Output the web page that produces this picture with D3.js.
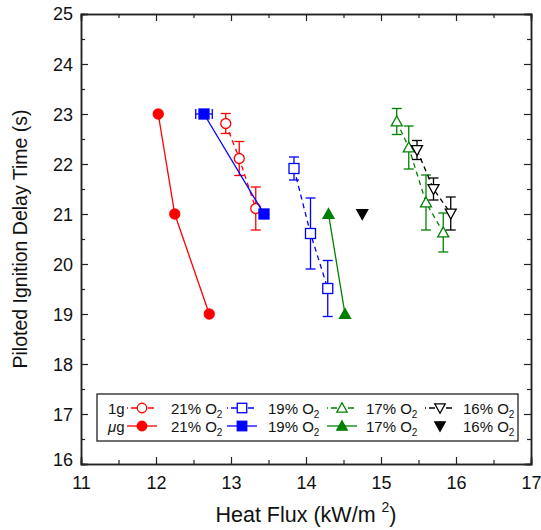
<!DOCTYPE html>
<html>
<head>
<meta charset="utf-8">
<script src="https://cdnjs.cloudflare.com/ajax/libs/d3/7.8.5/d3.min.js"></script>
<style>
  body { margin: 0; background: #fff; }
  text { font-family: "Liberation Sans", Arial, sans-serif; }
</style>
</head>
<body>
<div class="svg_container"></div>
<script>
// data: [heat flux, delay time, y error, x error]
var one_g_21 = [[12.93, 22.81, 0.20], [13.11, 22.11, 0.34], [13.33, 21.11, 0.43]];
var one_g_19 = [[13.84, 21.91, 0.23], [14.06, 20.61, 0.71], [14.29, 19.51, 0.56]];
var one_g_17 = [[15.21, 22.85, 0.26], [15.37, 22.33, 0.43], [15.60, 21.23, 0.55], [15.83, 20.63, 0.39]];
var one_g_16 = [[15.48, 22.28, 0.19], [15.70, 21.50, 0.22], [15.93, 21.01, 0.33]];
var mu_g_21 = [[12.03, 23.0], [12.25, 21.0], [12.71, 19.0]];
var mu_g_19 = [[12.64, 23.0, 0, 0.11], [13.44, 21.0]];
var mu_g_17 = [[14.30, 21.0], [14.52, 19.0]];
var mu_g_16 = [[14.75, 21.0]];

var x_ticks = [11, 12, 13, 14, 15, 16, 17];
var y_ticks = [16, 17, 18, 19, 20, 21, 22, 23, 24, 25];
var o2_labels = ["21%", "19%", "17%", "16%"];

var series = [
  { data: one_g_21, color: "#ff0000", shape: "circle", fill: false, dash: true, row: 0, col: 0 },
  { data: one_g_19, color: "#0000ff", shape: "square", fill: false, dash: true, row: 0, col: 1 },
  { data: one_g_17, color: "#008000", shape: "up", fill: false, dash: true, row: 0, col: 2 },
  { data: one_g_16, color: "#000000", shape: "down", fill: false, dash: true, row: 0, col: 3 },
  { data: mu_g_21, color: "#ff0000", shape: "circle", fill: true, dash: false, row: 1, col: 0 },
  { data: mu_g_19, color: "#0000ff", shape: "square", fill: true, dash: false, row: 1, col: 1 },
  { data: mu_g_17, color: "#008000", shape: "up", fill: true, dash: false, row: 1, col: 2 },
  { data: mu_g_16, color: "#000000", shape: "down", fill: true, dash: false, row: 1, col: 3, noline: true }
];

var margin = { top: 14, right: 10, bottom: 66, left: 81 },
  width = 541 - margin.left - margin.right,
  height = 530 - margin.top - margin.bottom;

var x = d3.scaleLinear().domain([11, 17]).range([0, width]);
var y = d3.scaleLinear().domain([16, 25]).range([height, 0]);

var svg = d3.select(".svg_container").append("svg")
  .attr("width", 541)
  .attr("height", 530)
  .append("g")
  .attr("transform", "translate(" + margin.left + "," + margin.top + ")");

// frame with inward ticks on all sides
function minor(t) {
  var out = [];
  for (var i = 0; i < t.length - 1; i++) out.push((t[i] + t[i + 1]) / 2);
  return out;
}

var axes = svg.append("g").attr("class", "axes");

var xb = axes.append("g").attr("transform", "translate(0," + height + ")")
  .call(d3.axisBottom(x).tickValues(x_ticks).tickSize(-7).tickPadding(12).tickFormat(d3.format("d")));
axes.append("g").attr("transform", "translate(0," + height + ")")
  .call(d3.axisBottom(x).tickValues(minor(x_ticks)).tickSize(-4).tickFormat(""));
axes.append("g").call(d3.axisTop(x).tickValues(x_ticks).tickSize(-7).tickFormat(""));
axes.append("g").call(d3.axisTop(x).tickValues(minor(x_ticks)).tickSize(-4).tickFormat(""));

var yl = axes.append("g")
  .call(d3.axisLeft(y).tickValues(y_ticks).tickSize(-7).tickPadding(8).tickFormat(d3.format("d")));
axes.append("g").call(d3.axisLeft(y).tickValues(minor(y_ticks)).tickSize(-4).tickFormat(""));
axes.append("g").attr("transform", "translate(" + width + ",0)")
  .call(d3.axisRight(y).tickValues(y_ticks).tickSize(-7).tickFormat(""));
axes.append("g").attr("transform", "translate(" + width + ",0)")
  .call(d3.axisRight(y).tickValues(minor(y_ticks)).tickSize(-4).tickFormat(""));

axes.selectAll(".domain").attr("stroke", "#222").attr("stroke-width", 1.5);
axes.selectAll(".tick line").attr("stroke", "#222").attr("stroke-width", 1.2);
axes.selectAll(".tick text").attr("font-size", 18).attr("fill", "#111")
  .attr("font-family", "Liberation Sans, Arial, sans-serif");
xb.selectAll(".tick text").attr("dy", "0.71em");
yl.selectAll(".tick text").attr("dy", "0.36em");
// nudge lowest y label up like the original
yl.selectAll(".tick text").filter(function(d) { return d === 16; }).attr("dy", "0.1em");
yl.selectAll(".tick text").filter(function(d) { return d === 25; }).attr("dy", "0.3em");

// axis titles
var xt = svg.append("text")
  .attr("x", width / 2)
  .attr("y", height + 58)
  .attr("text-anchor", "middle")
  .attr("font-size", 21.5)
  .attr("fill", "#111");
xt.append("tspan").text("Heat Flux (kW/m ");
xt.append("tspan").attr("font-size", 14).attr("dy", -10).text("2");
xt.append("tspan").attr("dy", 10).text(")");

svg.append("text")
  .attr("transform", "translate(" + (-54) + "," + (height / 2) + ") rotate(-90)")
  .attr("text-anchor", "middle")
  .attr("font-size", 19.5)
  .attr("fill", "#111")
  .text("Piloted Ignition Delay Time (s)");

// marker drawing
function marker(g, s, cx, cy, scale) {
  var k = scale || 1;
  var fill = s.fill ? s.color : "#fff";
  if (s.shape === "circle") {
    g.append("circle").attr("cx", cx).attr("cy", cy).attr("r", 5 * k)
      .attr("fill", fill).attr("stroke", s.color).attr("stroke-width", 1.3);
  } else if (s.shape === "square") {
    g.append("rect").attr("x", cx - 5 * k).attr("y", cy - 5 * k)
      .attr("width", 10 * k).attr("height", 10 * k)
      .attr("fill", fill).attr("stroke", s.color).attr("stroke-width", 1.3);
  } else {
    var h = 5.5 * k, dir = s.shape === "up" ? 1 : -1;
    var pts = [[cx, cy - dir * h], [cx - h, cy + dir * h * 0.8], [cx + h, cy + dir * h * 0.8]];
    g.append("path").attr("d", "M" + pts.map(function(p) { return p.join(","); }).join("L") + "Z")
      .attr("fill", fill).attr("stroke", s.color).attr("stroke-width", 1.3);
  }
}

var line = d3.line()
  .x(function(d) { return x(d[0]); })
  .y(function(d) { return y(d[1]); });

var plot = svg.append("g");

series.forEach(function(s) {
  var g = plot.append("g");
  if (!s.noline) {
    g.append("path").datum(s.data)
      .attr("d", line)
      .attr("fill", "none")
      .attr("stroke", s.color)
      .attr("stroke-width", 1.3)
      .attr("stroke-dasharray", s.dash ? "5,4" : null);
  }
  s.data.forEach(function(d) {
    var cx = x(d[0]), cy = y(d[1]);
    if (d[2]) {
      var y0 = y(d[1] - d[2]), y1 = y(d[1] + d[2]);
      g.append("line").attr("x1", cx).attr("x2", cx).attr("y1", y0).attr("y2", y1)
        .attr("stroke", s.color).attr("stroke-width", 1.3);
      [y0, y1].forEach(function(yy) {
        g.append("line").attr("x1", cx - 5).attr("x2", cx + 5).attr("y1", yy).attr("y2", yy)
          .attr("stroke", s.color).attr("stroke-width", 1.3);
      });
    }
    if (d[3]) {
      var x0 = x(d[0] - d[3]), x1 = x(d[0] + d[3]);
      g.append("line").attr("x1", x0).attr("x2", x1).attr("y1", cy).attr("y2", cy)
        .attr("stroke", s.color).attr("stroke-width", 1.3);
      [x0, x1].forEach(function(xx) {
        g.append("line").attr("x1", xx).attr("x2", xx).attr("y1", cy - 5).attr("y2", cy + 5)
          .attr("stroke", s.color).attr("stroke-width", 1.3);
      });
    }
    marker(g, s, cx, cy);
  });
});

// legend
var lg = svg.append("g").attr("transform", "translate(" + (97 - margin.left) + "," + (394 - margin.top) + ")");
lg.append("rect").attr("width", 421).attr("height", 47)
  .attr("fill", "#fff").attr("stroke", "#222").attr("stroke-width", 1.3);

var rowY = [14, 32];
var colX = [45, 145, 245, 343];
var textX = [74, 171, 269, 366];

lg.append("text").attr("x", 11).attr("y", rowY[0] + 5.5).attr("font-size", 15).attr("fill", "#111").text("1g");
var mu = lg.append("text").attr("x", 11).attr("y", rowY[1] + 5.5).attr("font-size", 15).attr("fill", "#111");
mu.append("tspan").attr("font-style", "italic").text("\u03bc");
mu.append("tspan").text("g");

series.forEach(function(s) {
  var cx = colX[s.col], cy = rowY[s.row];
  if (!s.noline) {
    lg.append("line").attr("x1", cx - 15).attr("x2", cx + 15).attr("y1", cy).attr("y2", cy)
      .attr("stroke", s.color).attr("stroke-width", 1.3)
      .attr("stroke-dasharray", s.dash ? "1,3,6,11,6,3" : null);
  }
  marker(lg, s, cx, cy, 0.95);
  var t = lg.append("text").attr("x", textX[s.col]).attr("y", cy + 5.5).attr("font-size", 15).attr("fill", "#111");
  t.append("tspan").text(o2_labels[s.col] + " O");
  t.append("tspan").attr("font-size", 10).attr("dy", 4).text("2");
});
</script>
</body>
</html>
